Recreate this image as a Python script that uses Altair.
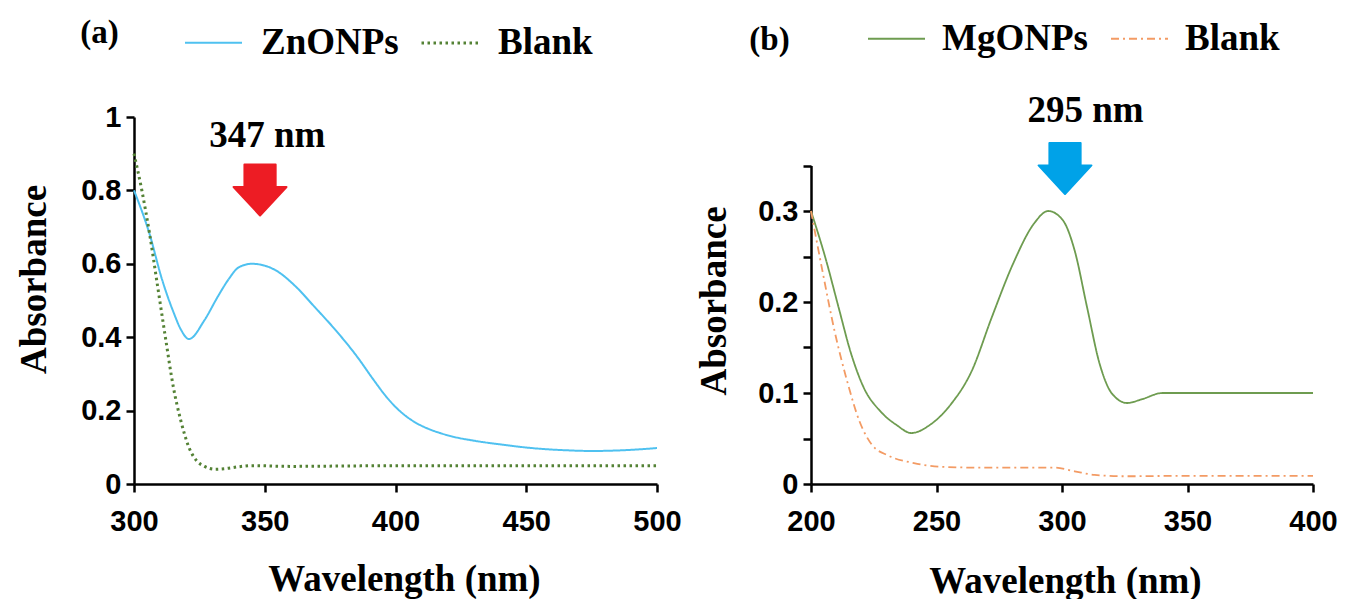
import altair as alt
import pandas as pd

# ---------------- data ----------------
# Panel (a)
zn_wl = [300, 306, 310.6, 315, 318, 321, 327, 332, 336, 340, 345, 350, 354, 362, 369, 377, 385, 392, 396, 400, 404, 408, 412, 417, 422, 430, 440, 452, 465, 475, 490, 500]
zn_abs = [0.80, 0.68, 0.56, 0.47, 0.42, 0.395, 0.447, 0.51, 0.556, 0.59, 0.60, 0.595, 0.583, 0.537, 0.483, 0.42, 0.35, 0.28, 0.242, 0.21, 0.185, 0.166, 0.152, 0.139, 0.129, 0.118, 0.108, 0.098, 0.092, 0.09, 0.093, 0.098]
blank_a_wl = [300, 303, 306, 309, 312, 315, 318, 321, 324, 327, 331, 335, 340, 345, 360, 380, 400, 450, 500]
blank_a_abs = [0.90, 0.80, 0.68, 0.54, 0.40, 0.266, 0.17, 0.10, 0.063, 0.048, 0.040, 0.042, 0.047, 0.050, 0.048, 0.049, 0.050, 0.050, 0.050]

# Panel (b)
mg_wl = [200, 206, 211, 216, 221, 227.6, 234, 240, 247.4, 255.7, 264, 272, 280.5, 288.8, 294.5, 300.3, 305, 310, 315, 320, 326, 331.7, 340, 360, 380, 400]
mg_abs = [0.30, 0.246, 0.194, 0.143, 0.106, 0.080, 0.065, 0.056, 0.065, 0.0875, 0.124, 0.183, 0.242, 0.286, 0.30, 0.29, 0.257, 0.194, 0.132, 0.099, 0.089, 0.093, 0.100, 0.100, 0.100, 0.100]
blank_b_wl = [200, 204.5, 209.4, 214.4, 219.3, 224.3, 231, 241, 251, 267, 297, 305, 313, 325, 350, 400]
blank_b_abs = [0.30, 0.235, 0.168, 0.113, 0.069, 0.043, 0.031, 0.023, 0.019, 0.018, 0.018, 0.014, 0.010, 0.0085, 0.009, 0.009]

series_a = ["ZnONPs", "Blank"]
series_b = ["MgONPs", "Blank"]
panel_tags = ["(a)", "(b)"]

peak_labels = ["347 nm", "295 nm"]
peak_label_wl = [351, 309.4]
peak_label_abs = [0.918, 0.398]
arrow_wl = [348.2, 301.2]
arrow_abs = [0.801, 0.3467]

x_ticks_a = [300, 350, 400, 450, 500]
y_ticks_a = [0, 0.2, 0.4, 0.6, 0.8, 1]
x_ticks_b = [200, 250, 300, 350, 400]
y_ticks_b = [0, 0.05, 0.1, 0.15, 0.2, 0.25, 0.3, 0.35]

# ---------------- styling ----------------
SERIF = "Liberation Serif"
SANS = "Liberation Sans"
ARROW = "M-0.59,-0.963L0.59,-0.963L0.59,-0.116L1,-0.116L0,0.963L-1,-0.116L-0.59,-0.116Z"

W_A, W_B, H = 523, 502, 367


def legend(x, y, offset, gap):
    return alt.Legend(
        orient="none", legendX=x, legendY=y, direction="horizontal", title=None,
        symbolType="stroke", symbolSize=3249, symbolStrokeWidth=2.5,
        labelFont=SERIF, labelFontSize=37, labelFontWeight="bold", labelColor="black",
        labelOffset=offset, columnPadding=gap, padding=0, labelLimit=0,
    )


def panel(df, ann, arr, tag, series, colors, dashes, widths, xdom, xticks, ydom, yticks,
          yrange, width, leg, xtitle_pos, ytitle_pos, tag_pos, arrow_color, ylabel_expr):
    X = alt.X("wl:Q", scale=alt.Scale(domain=xdom, nice=False, zero=False),
              axis=alt.Axis(values=xticks, title="Wavelength (nm)", labelFlush=False,
                            titleX=xtitle_pos[0], titleY=xtitle_pos[1],
                            titleAlign="center", titleBaseline="alphabetic"))
    yscale = alt.Scale(domain=ydom, nice=False, zero=True)
    if yrange is not None:
        yscale = alt.Scale(domain=ydom, nice=False, zero=True, range=yrange)
    yaxis_kwargs = dict(values=yticks, title="Absorbance", format="~g",
                        titleX=ytitle_pos[0], titleY=ytitle_pos[1], titleAngle=270,
                        titleAlign="center", titleBaseline="alphabetic", labelOverlap=False)
    if ylabel_expr:
        yaxis_kwargs["labelExpr"] = ylabel_expr
    Y = alt.Y("abs:Q", scale=yscale, axis=alt.Axis(**yaxis_kwargs))

    lines = alt.Chart(df).mark_line(interpolate="monotone").encode(
        x=X, y=Y,
        color=alt.Color("series:N", scale=alt.Scale(domain=series, range=colors), legend=leg, sort=series),
        strokeDash=alt.StrokeDash("series:N", scale=alt.Scale(domain=series, range=dashes), legend=leg, sort=series),
        strokeWidth=alt.StrokeWidth("series:N", scale=alt.Scale(domain=series, range=widths), legend=None),
        detail="series:N",
    )
    label = alt.Chart(ann).mark_text(font=SERIF, fontSize=37, fontWeight="bold",
                                     align="center", baseline="alphabetic", color="black").encode(
        x=X, y=Y, text="label:N")
    arrow = alt.Chart(arr).mark_point(shape=ARROW, filled=True, size=2800, color=arrow_color,
                                      opacity=1, stroke=arrow_color, strokeWidth=2,
                                      strokeJoin="round").encode(x=X, y=Y)
    tagc = alt.Chart(pd.DataFrame({"tag": [tag]})).mark_text(
        font=SERIF, fontSize=33, fontWeight="bold", align="center", baseline="alphabetic",
        color="black").encode(text="tag:N", x=alt.value(tag_pos[0]), y=alt.value(tag_pos[1]))
    return alt.layer(lines, label, arrow, tagc).properties(width=width, height=H)


df_a = pd.DataFrame({
    "wl": zn_wl + blank_a_wl,
    "abs": zn_abs + blank_a_abs,
    "series": [series_a[0]] * len(zn_wl) + [series_a[1]] * len(blank_a_wl),
})
df_b = pd.DataFrame({
    "wl": mg_wl + blank_b_wl,
    "abs": mg_abs + blank_b_abs,
    "series": [series_b[0]] * len(mg_wl) + [series_b[1]] * len(blank_b_wl),
})
ann_a = pd.DataFrame({"wl": [peak_label_wl[0]], "abs": [peak_label_abs[0]], "label": [peak_labels[0]]})
ann_b = pd.DataFrame({"wl": [peak_label_wl[1]], "abs": [peak_label_abs[1]], "label": [peak_labels[1]]})
arr_a = pd.DataFrame({"wl": [arrow_wl[0]], "abs": [arrow_abs[0]]})
arr_b = pd.DataFrame({"wl": [arrow_wl[1]], "abs": [arrow_abs[1]]})

panel_a = panel(df_a, ann_a, arr_a, panel_tags[0], series_a,
                ["#4FC1F0", "#548235"], [[1, 0], [2.5, 3.5]], [2, 3],
                [300, 500], x_ticks_a, [0, 1], y_ticks_a, None, W_A,
                legend(50, -104, 18, 16), (270, 106), (-89, 162), (-34.5, -74), "#ED1C24", None)

panel_b = panel(df_b, ann_b, arr_b, panel_tags[1], series_b,
                ["#6E9C50", "#F39B64"], [[1, 0], [8, 4, 2, 4]], [1.8, 1.8],
                [200, 400], x_ticks_b, [0, 0.35], y_ticks_b, [H, 48.5], W_B,
                legend(56, -108, 16, 19), (254, 108), (-86, 183.5), (-41.5, -67), "#00A2E8",
                "(round(datum.value*100) % 10 == 0) ? format(datum.value, '~g') : ''")

chart = alt.hconcat(panel_a, panel_b, spacing=154, bounds="flush").resolve_scale(
    x="independent", y="independent", color="independent",
    strokeDash="independent", strokeWidth="independent",
).configure_axis(
    grid=False, domainColor="black", domainWidth=2.5, tickColor="black", tickWidth=2.5,
    tickSize=8, labelFont=SANS, labelFontSize=29, labelFontWeight="bold", labelColor="black",
    titleFont=SERIF, titleFontSize=37, titleFontWeight="bold", titleColor="black",
).configure_axisX(labelPadding=15).configure_axisY(labelPadding=5).configure_view(
    stroke=None
).properties(padding={"left": 7, "top": 1, "right": 5, "bottom": 0}, background="white")

chart.save("out.html", embed_options={"renderer": "svg", "actions": False})
